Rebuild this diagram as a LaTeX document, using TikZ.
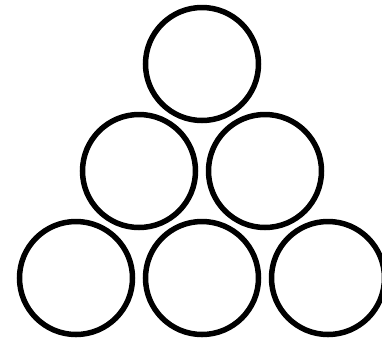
\documentclass[tikz,border=0pt]{standalone}
\begin{document}
\begin{tikzpicture}[x=1pt,y=-1pt,ball/.style={draw,circle,line width=5.5pt,minimum size=113pt,inner sep=0pt}]
	\useasboundingbox (0,0) rectangle (382,341);
	\foreach \x/\y/\n in {202/64/top,139/171/ml,265/171/mr,76/278/bl,202/278/bm,328/278/br}\node[ball] (\n) at (\x,\y) {};
\end{tikzpicture}
\end{document}
